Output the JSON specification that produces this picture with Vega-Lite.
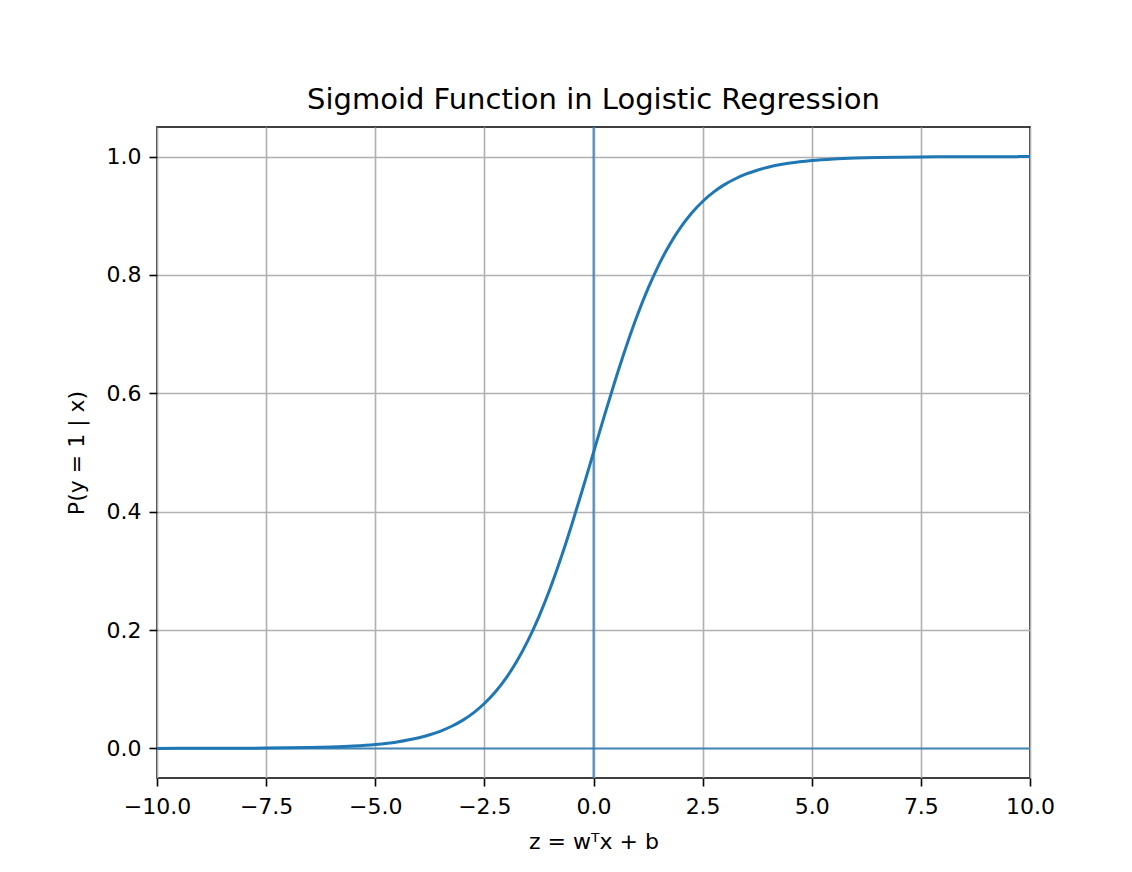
{
  "$schema": "https://vega.github.io/schema/vega-lite/v6.json",
  "width": 873,
  "height": 651,
  "autosize": {"type": "none"},
  "padding": {"left": 157, "top": 127, "right": 102, "bottom": 94},
  "background": "white",
  "title": {
    "text": "Sigmoid Function in Logistic Regression",
    "font": "DejaVu Sans",
    "fontSize": 29,
    "fontWeight": "normal",
    "color": "#000000",
    "anchor": "middle",
    "offset": 11
  },
  "config": {
    "view": {"stroke": "#000000", "strokeWidth": 1.6},
    "axis": {
      "labelFont": "DejaVu Sans",
      "labelFontSize": 22,
      "labelColor": "#000000",
      "labelFlush": false,
      "labelOverlap": false,
      "titleFont": "DejaVu Sans",
      "titleFontSize": 22,
      "titleFontWeight": "normal",
      "titleColor": "#000000",
      "gridColor": "#b0b0b0",
      "gridWidth": 1.6,
      "gridOpacity": 1,
      "tickColor": "#000000",
      "tickSize": 8,
      "tickWidth": 1.6,
      "domain": false,
      "labelPadding": 8
    }
  },
  "datasets": {
    "curve": [
      {"z": -10, "p": 0.0000454},
      {"z": -9.5, "p": 0.000075},
      {"z": -9, "p": 0.000123},
      {"z": -8.5, "p": 0.000203},
      {"z": -8, "p": 0.000335},
      {"z": -7.5, "p": 0.000553},
      {"z": -7, "p": 0.000911},
      {"z": -6.5, "p": 0.0015},
      {"z": -6, "p": 0.00247},
      {"z": -5.5, "p": 0.00407},
      {"z": -5, "p": 0.00669},
      {"z": -4.5, "p": 0.011},
      {"z": -4, "p": 0.018},
      {"z": -3.75, "p": 0.023},
      {"z": -3.5, "p": 0.0293},
      {"z": -3.25, "p": 0.0374},
      {"z": -3, "p": 0.0474},
      {"z": -2.75, "p": 0.0601},
      {"z": -2.5, "p": 0.0759},
      {"z": -2.25, "p": 0.0953},
      {"z": -2, "p": 0.1192},
      {"z": -1.75, "p": 0.148},
      {"z": -1.5, "p": 0.1824},
      {"z": -1.25, "p": 0.2227},
      {"z": -1, "p": 0.2689},
      {"z": -0.75, "p": 0.3208},
      {"z": -0.5, "p": 0.3775},
      {"z": -0.25, "p": 0.4378},
      {"z": 0, "p": 0.5},
      {"z": 0.25, "p": 0.5622},
      {"z": 0.5, "p": 0.6225},
      {"z": 0.75, "p": 0.6792},
      {"z": 1, "p": 0.7311},
      {"z": 1.25, "p": 0.7773},
      {"z": 1.5, "p": 0.8176},
      {"z": 1.75, "p": 0.852},
      {"z": 2, "p": 0.8808},
      {"z": 2.25, "p": 0.9047},
      {"z": 2.5, "p": 0.9241},
      {"z": 2.75, "p": 0.9399},
      {"z": 3, "p": 0.9526},
      {"z": 3.25, "p": 0.9626},
      {"z": 3.5, "p": 0.9707},
      {"z": 3.75, "p": 0.977},
      {"z": 4, "p": 0.982},
      {"z": 4.5, "p": 0.989},
      {"z": 5, "p": 0.99331},
      {"z": 5.5, "p": 0.99593},
      {"z": 6, "p": 0.99753},
      {"z": 6.5, "p": 0.9985},
      {"z": 7, "p": 0.99909},
      {"z": 7.5, "p": 0.99945},
      {"z": 8, "p": 0.99966},
      {"z": 8.5, "p": 0.9998},
      {"z": 9, "p": 0.99988},
      {"z": 9.5, "p": 0.99993},
      {"z": 10, "p": 0.99995}
    ],
    "hline": [{"p": 0}],
    "vline": [{"z": 0}]
  },
  "layer": [
    {
      "data": {"name": "curve"},
      "mark": {"type": "line", "color": "#1f77b4", "strokeWidth": 3, "interpolate": "monotone", "clip": true},
      "encoding": {
        "x": {
          "field": "z",
          "type": "quantitative",
          "scale": {"domain": [-10, 10], "nice": false, "zero": false},
          "axis": {
            "title": "z = wᵀx + b",
            "values": [-10, -7.5, -5, -2.5, 0, 2.5, 5, 7.5, 10],
            "format": ".1f",
            "labelPadding": 10,
            "titlePadding": 14
          }
        },
        "y": {
          "field": "p",
          "type": "quantitative",
          "scale": {"domain": [-0.05, 1.05], "nice": false, "zero": false},
          "axis": {
            "title": "P(y = 1 | x)",
            "values": [0, 0.2, 0.4, 0.6, 0.8, 1.0],
            "format": ".1f",
            "titlePadding": 18
          }
        }
      }
    },
    {
      "data": {"name": "hline"},
      "mark": {"type": "rule", "color": "#1f77b4", "strokeWidth": 2, "opacity": 0.75},
      "encoding": {"y": {"field": "p", "type": "quantitative"}}
    },
    {
      "data": {"name": "vline"},
      "mark": {"type": "rule", "color": "#1f77b4", "strokeWidth": 2, "opacity": 0.75},
      "encoding": {"x": {"field": "z", "type": "quantitative"}}
    }
  ]
}
